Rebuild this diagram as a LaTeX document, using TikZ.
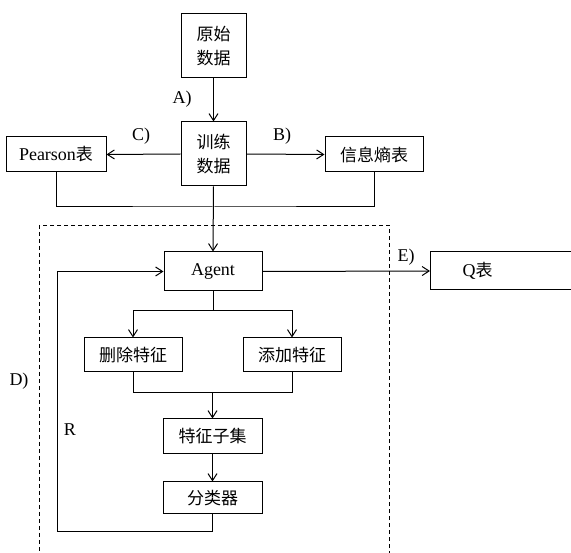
\documentclass[tikz,border=0pt]{standalone}
\usepackage{fontspec}
\setmainfont{Liberation Serif}
\newfontfamily\cjk{Noto Sans CJK SC}
\usetikzlibrary{arrows.meta}
\begin{document}
\begin{tikzpicture}[x=1pt,y=-1pt,
  box/.style={draw, line width=1pt, inner sep=0pt, align=center, font=\fontsize{18}{24}\selectfont},
  lab/.style={inner sep=0pt, font=\fontsize{18}{20}\selectfont},
  conn/.style={line width=1pt},
  arr/.style={line width=1pt, -{Straight Barb[length=7pt,width=9pt]}}]
\clip (0,0) rectangle (571,553);
\fill[white] (0,0) rectangle (571,553);
% nodes
\node[box, minimum width=65, minimum height=64] (raw) at (213.5,46) {\cjk\fontsize{17}{24}\selectfont 原始\\\cjk\fontsize{17}{24}\selectfont 数据};
\node[box, minimum width=65, minimum height=64] (train) at (213.5,154) {\cjk\fontsize{17}{24}\selectfont 训练\\\cjk\fontsize{17}{24}\selectfont 数据};
\node[box, minimum width=100, minimum height=35] (pearson) at (56,154.5) {Pearson{\cjk\fontsize{17}{20}\selectfont 表}};
\node[box, minimum width=98, minimum height=35] (entropy) at (374,154.5) {\cjk\fontsize{17}{20}\selectfont 信息熵表};
\node[box, minimum width=98, minimum height=39] (agent) at (213,271.5) {Agent};
\node[box, minimum width=98, minimum height=34] (del) at (133,355) {\cjk\fontsize{17}{20}\selectfont 删除特征};
\node[box, minimum width=98, minimum height=34] (add) at (292,355) {\cjk\fontsize{17}{20}\selectfont 添加特征};
\node[box, minimum width=99, minimum height=35] (sub) at (212.5,436.5) {\cjk\fontsize{17}{20}\selectfont 特征子集};
\node[box, minimum width=99, minimum height=32] (cls) at (212.5,498) {\cjk\fontsize{17}{20}\selectfont 分类器};
\node[box, anchor=west, minimum height=38, inner xsep=32pt] (q) at (430,271) {Q{\cjk\fontsize{17}{20}\selectfont 表}\hspace{94pt}};
% dashed region
\draw[line width=0.9pt, dash pattern=on 4pt off 3pt] (39,225) rectangle (389,600);
% labels
\node[lab] (la) at (182,99) {A)};
\node[lab] (lc) at (141,136) {C)};
\node[lab] (lb) at (282,136) {B)};
\node[lab] (le) at (406,257) {E)};
\node[lab] (ld) at (19,381) {D)};
\node[lab] (lr) at (70,430) {R};
% coordinates
\coordinate (j1) at (213.5,207);
\coordinate (b) at (213,311);
\coordinate (m) at (212.5,393);
\coordinate (loop) at (57,532);
% connectors
\draw[arr] (raw.south) -- (train.north);
\draw[arr] (train.west) -- (pearson.east);
\draw[arr] (train.east) -- (entropy.west);
\draw[conn] (pearson.south) |- (j1) -| (entropy.south);
\draw[arr] (train.south) -- (agent.north);
\draw[arr] (agent.east) -- (q.west);
\draw[conn] (agent.south) -- (b);
\draw[arr] (b) -| (del.north);
\draw[arr] (b) -| (add.north);
\draw[conn] (del.south) |- (m);
\draw[conn] (add.south) |- (m);
\draw[arr] (m) -- (sub.north);
\draw[arr] (sub.south) -- (cls.north);
\draw[arr] (cls.south) |- (loop) |- (agent.west);
\end{tikzpicture}
\end{document}
